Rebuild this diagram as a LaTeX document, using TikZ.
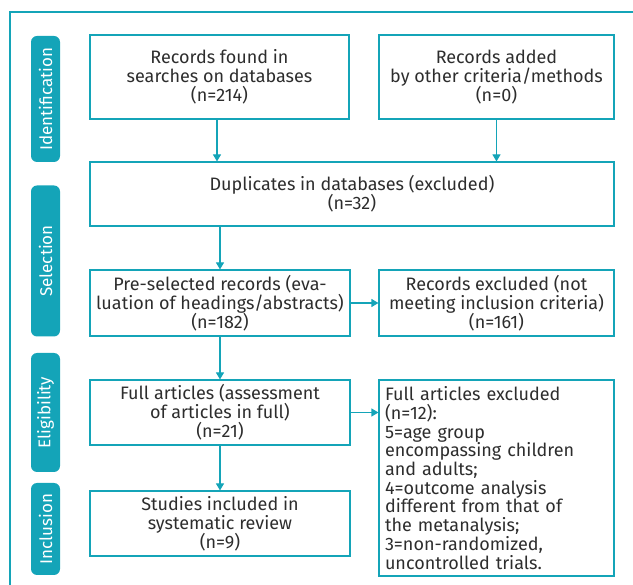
\documentclass[tikz,border=0pt]{standalone}
\usepackage{fontspec}
\setmainfont{Fira Sans}
\usetikzlibrary{arrows.meta}
\definecolor{teal1}{RGB}{20,164,184}
\definecolor{txt}{RGB}{45,45,45}
\begin{document}
\begin{tikzpicture}[x=1pt,y=-1pt,
  box/.style={draw=teal1,line width=1.1pt,align=center,inner sep=2pt,text=txt,
    font=\fontsize{18}{19.2}\selectfont},
  side/.style={fill=teal1,rounded corners=6pt,text=white,rotate=90,minimum height=29pt,
    inner sep=0pt,font=\fontsize{17}{18}\selectfont},
  arr/.style={draw=teal1,line width=1.1pt,-{Triangle[length=7pt,width=8pt]}}]
\useasboundingbox (0,0) rectangle (633,585);
\draw[teal1,line width=1.4pt] (10,590) -- (10,12) -- (640,12);
\node[side,minimum width=126pt] (s1) at (45.5,99) {Identification};
\node[side,minimum width=151pt] (s2) at (45.5,261) {Selection};
\node[side,minimum width=119pt] (s3) at (45.5,412.5) {Eligibility};
\node[side,minimum width=92pt] (s4) at (45.5,529) {Inclusion};
\node[box,minimum width=259pt,minimum height=84pt] (A) at (219.5,77) {Records found in\\searches on databases\\(n=214)};
\node[box,minimum width=235pt,minimum height=84pt] (B) at (496.5,77) {Records added\\by other criteria/methods\\(n=0)};
\node[box,minimum width=524pt,minimum height=64pt] (C) at (352,194) {Duplicates in databases (excluded)\\(n=32)};
\node[box,minimum width=260pt,minimum height=66pt] (D) at (220,303) {Pre-selected records (eva-\\luation of headings/abstracts)\\(n=182)};
\node[box,minimum width=235pt,minimum height=66pt] (E) at (496.5,303) {Records excluded (not\\meeting inclusion criteria)\\(n=161)};
\node[box,minimum width=260pt,minimum height=65pt] (F) at (220,412.5) {Full articles (assessment\\of articles in full)\\(n=21)};
\node[box,minimum width=235pt,minimum height=196pt,text width=223pt,align=left,inner sep=6pt,
  font=\fontsize{18}{18.7}\selectfont] (G) at (496.5,478) {Full articles excluded\\(n=12):\\5=age group\\encompassing children\\and adults;\\4=outcome analysis\\different from that of\\the metanalysis;\\3=non-randomized,\\uncontrolled trials.};
\node[box,minimum width=260pt,minimum height=65pt] (H) at (220,523.5) {Studies included in\\systematic review\\(n=9)};
\draw[arr] ([xshift=-2.5pt]A.south) -- ([xshift=-2.5pt]A.south |- C.north);
\draw[arr] (B.south) -- (B.south |- C.north);
\draw[arr] (D.north |- C.south) -- (D.north);
\draw[arr] (D.east) -- (E.west);
\draw[arr] (D.south) -- (F.north);
\draw[arr] (F.east) -- (F.east -| G.west);
\draw[arr] (F.south) -- (H.north);
\end{tikzpicture}
\end{document}
